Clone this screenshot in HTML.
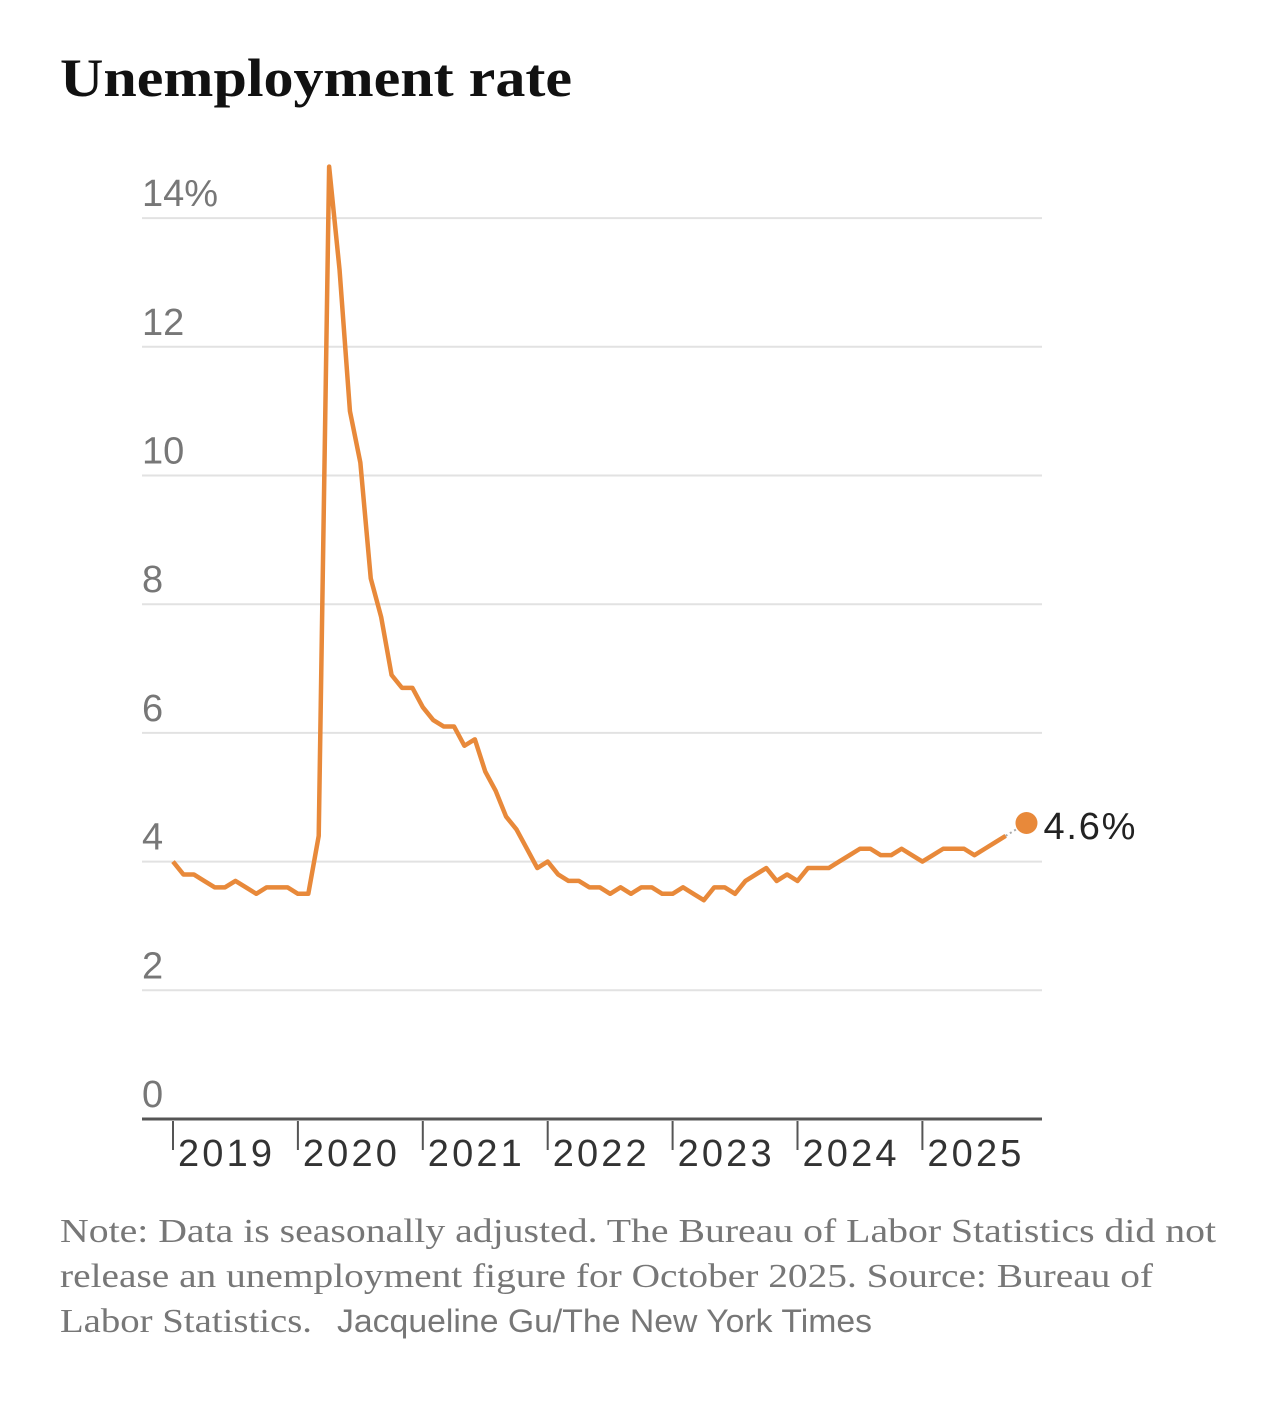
<!DOCTYPE html>
<html><head><meta charset="utf-8"><style>
body{margin:0;background:#fff;width:1280px;height:1403px;overflow:hidden;}
svg{display:block}
</style></head><body>
<svg width="1280" height="1403">
<text x="60" y="96" font-family="Liberation Serif, serif" font-weight="bold" font-size="54" fill="#111" textLength="512" lengthAdjust="spacingAndGlyphs">Unemployment rate</text>
<g id="grid"></g><g id="xaxis"></g>
<path id="line" fill="none" stroke="#e8893a" stroke-width="4.5" stroke-linejoin="round"/>
<path id="gap" fill="none" stroke="#aaa" stroke-width="2" stroke-dasharray="2,3"/>
<circle id="dot" r="11" fill="#e8893a"/>
<text id="lbl" font-family="Liberation Sans, sans-serif" font-size="38" fill="#222" textLength="92">4.6%</text>
<g font-family="Liberation Serif, serif" font-size="34" fill="#777">
<text x="60" y="1242" textLength="1156" lengthAdjust="spacingAndGlyphs">Note: Data is seasonally adjusted. The Bureau of Labor Statistics did not</text>
<text x="60" y="1287" textLength="1093" lengthAdjust="spacingAndGlyphs">release an unemployment figure for October 2025. Source: Bureau of</text>
<text x="60" y="1332" textLength="252" lengthAdjust="spacingAndGlyphs">Labor Statistics.</text>
<text x="337" y="1332" font-family="Liberation Sans, sans-serif" font-size="32" textLength="535" lengthAdjust="spacingAndGlyphs">Jacqueline Gu/The New York Times</text>
</g>
</svg>
<script>
const yTicks=[0,2,4,6,8,10,12,14];
const yLabels=["0","2","4","6","8","10","12","14%"];
const years=["2019","2020","2021","2022","2023","2024","2025"];
const rates=[4.0,3.8,3.8,3.7,3.6,3.6,3.7,3.6,3.5,3.6,3.6,3.6,
3.5,3.5,4.4,14.8,13.2,11.0,10.2,8.4,7.8,6.9,6.7,6.7,
6.4,6.2,6.1,6.1,5.8,5.9,5.4,5.1,4.7,4.5,4.2,3.9,
4.0,3.8,3.7,3.7,3.6,3.6,3.5,3.6,3.5,3.6,3.6,3.5,
3.5,3.6,3.5,3.4,3.6,3.6,3.5,3.7,3.8,3.9,3.7,3.8,
3.7,3.9,3.9,3.9,4.0,4.1,4.2,4.2,4.1,4.1,4.2,4.1,
4.0,4.1,4.2,4.2,4.2,4.1,4.2,4.3,4.4,null,4.6];
const NS="http://www.w3.org/2000/svg";
const y=v=>1119-v*64.35;
const x=i=>173+i*124.9/12;
const grid=document.getElementById('grid');
yTicks.forEach((t,k)=>{
 if(t>0){const l=document.createElementNS(NS,'line');
 
 
 l.setAttribute('x1',142);l.setAttribute('x2',1042);l.setAttribute('y1',y(t));l.setAttribute('y2',y(t));
 l.setAttribute('stroke','#e2e2e2');l.setAttribute('stroke-width',2);grid.appendChild(l);}
 const tx=document.createElementNS(NS,'text');
 
 
 tx.setAttribute('x',142);tx.setAttribute('y',y(t)-12);
 tx.setAttribute('font-family','Liberation Sans, sans-serif');tx.setAttribute('font-size',38);tx.setAttribute('fill','#777');
 tx.textContent=yLabels[k];grid.appendChild(tx);
});
const xa=document.getElementById('xaxis');
const base=document.createElementNS(NS,'line');


base.setAttribute('x1',142);base.setAttribute('x2',1042);base.setAttribute('y1',1119);base.setAttribute('y2',1119);
base.setAttribute('stroke','#555');base.setAttribute('stroke-width',3);xa.appendChild(base);
years.forEach((yr,k)=>{
 const px=x(k*12);
 const t=document.createElementNS(NS,'line');
 
 
 t.setAttribute('x1',px);t.setAttribute('x2',px);t.setAttribute('y1',1121);t.setAttribute('y2',1150);
 t.setAttribute('stroke','#555');t.setAttribute('stroke-width',2);xa.appendChild(t);
 const tx=document.createElementNS(NS,'text');
 
 
 tx.setAttribute('x',px+5);tx.setAttribute('y',1166);
 tx.setAttribute('font-family','Liberation Sans, sans-serif');tx.setAttribute('font-size',38);tx.setAttribute('fill','#333');
 tx.setAttribute('textLength',94);
 tx.textContent=yr;xa.appendChild(tx);
});
const lastIdx=rates.length-1;
let solid='';
for(let i=0;i<lastIdx;i++){if(rates[i]===null)break;solid+=(i?'L':'M')+x(i)+','+y(rates[i]);}
const gapStart=lastIdx-2;
const gap='M'+x(gapStart)+','+y(rates[gapStart])+'L'+x(lastIdx)+','+y(rates[lastIdx]);
document.getElementById('line').setAttribute('d',solid);
document.getElementById('gap').setAttribute('d',gap);
const dot=document.getElementById('dot');
dot.setAttribute('cx',x(lastIdx));dot.setAttribute('cy',y(rates[lastIdx]));
const lbl=document.getElementById('lbl');
lbl.setAttribute('x',x(lastIdx)+17);lbl.setAttribute('y',y(rates[lastIdx])+16);
</script>
</body></html>
